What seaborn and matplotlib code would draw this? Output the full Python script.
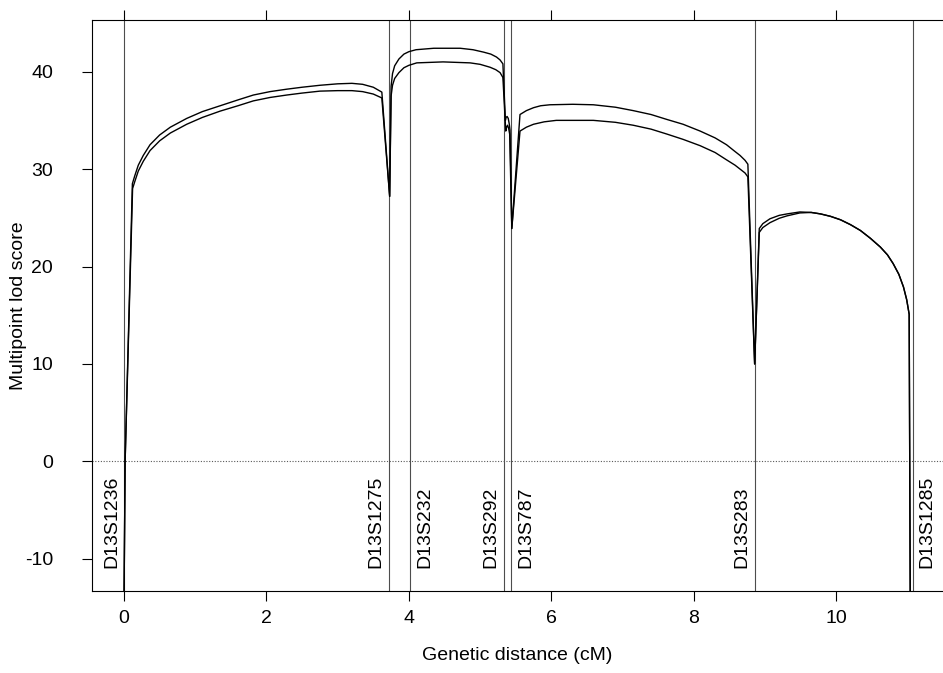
import numpy as np
import pandas as pd
import matplotlib
matplotlib.use('Agg')
import matplotlib.pyplot as plt
import seaborn as sns

# Markers on chromosome 13 (position in cM)
marker_names = ['D13S1236', 'D13S1275', 'D13S232', 'D13S292', 'D13S787', 'D13S283', 'D13S1285']
marker_pos = [0.0, 3.72, 4.02, 5.33, 5.44, 8.86, 11.08]
label_side = ['left', 'left', 'right', 'left', 'right', 'left', 'right']

# Upper multipoint lod curve
upper_x = [0.0, 0.015, 0.117, 0.15, 0.2, 0.27, 0.365, 0.5, 0.65, 0.88, 1.1, 1.35, 1.6, 1.816,
           2.05, 2.285, 2.5, 2.75, 3.0, 3.2, 3.35, 3.5, 3.62,
           3.73, 3.75, 3.77, 3.8, 3.86, 3.93, 4.0, 4.1, 4.35, 4.72, 4.9, 5.05, 5.15, 5.23, 5.28, 5.32,
           5.355, 5.365, 5.379, 5.395, 5.41, 5.42, 5.445,
           5.56, 5.65, 5.75, 5.85, 5.98, 6.3, 6.59, 6.9, 7.15, 7.4, 7.62, 7.85, 8.09, 8.3, 8.46,
           8.58, 8.65, 8.72, 8.76,
           8.855, 8.92, 8.97, 9.07, 9.2, 9.31, 9.49, 9.65, 9.78, 9.92, 10.06, 10.2, 10.34, 10.48,
           10.62, 10.72, 10.80, 10.88, 10.945, 10.99, 11.025, 11.04]
upper_y = [-14.0, 0.0, 28.5, 29.3, 30.4, 31.4, 32.5, 33.5, 34.3, 35.2, 35.9, 36.5, 37.1, 37.6,
           37.95, 38.2, 38.4, 38.6, 38.75, 38.8, 38.7, 38.4, 37.9,
           27.2, 38.5, 39.8, 40.6, 41.3, 41.8, 42.05, 42.25, 42.4, 42.4, 42.25, 42.0, 41.8, 41.5, 41.2, 40.8,
           35.0, 35.3, 35.4, 35.2, 34.6, 34.0, 23.9,
           35.6, 36.0, 36.3, 36.5, 36.6, 36.65, 36.6, 36.35, 36.0, 35.6, 35.1, 34.6, 33.9, 33.2, 32.5,
           31.8, 31.4, 30.9, 30.5,
           10.0, 23.9, 24.4, 24.9, 25.25, 25.4, 25.6, 25.55, 25.4, 25.15, 24.8, 24.3, 23.7, 22.9,
           22.0, 21.2, 20.3, 19.2, 17.9, 16.6, 15.1, -14.0]

# Lower multipoint lod curve
lower_x = [0.0, 0.015, 0.12, 0.15, 0.2, 0.27, 0.365, 0.5, 0.65, 0.88, 1.1, 1.35, 1.6, 1.816,
           2.05, 2.285, 2.5, 2.75, 3.0, 3.2, 3.35, 3.5, 3.62,
           3.73, 3.75, 3.77, 3.8, 3.86, 3.93, 4.0, 4.11, 4.48, 4.86, 5.0, 5.14, 5.22, 5.28, 5.32,
           5.36, 5.372, 5.385, 5.40, 5.415, 5.445,
           5.56, 5.65, 5.75, 5.9, 6.07, 6.59, 6.9, 7.15, 7.4, 7.62, 7.85, 8.09, 8.3, 8.46,
           8.58, 8.65, 8.72, 8.76,
           8.855, 8.92, 8.97, 9.07, 9.2, 9.31, 9.49, 9.65, 9.78, 9.92, 10.06, 10.2, 10.34, 10.48,
           10.62, 10.72, 10.80, 10.88, 10.945, 10.99, 11.025, 11.04]
lower_y = [-14.0, 0.0, 28.0, 28.7, 29.8, 30.8, 31.9, 32.9, 33.7, 34.6, 35.3, 35.95, 36.5, 37.0,
           37.35, 37.6, 37.8, 38.0, 38.05, 38.05, 37.95, 37.7, 37.3,
           27.2, 37.5, 38.6, 39.3, 39.9, 40.4, 40.65, 40.9, 41.0, 40.9, 40.75, 40.45, 40.2, 39.9, 39.4,
           33.9, 34.3, 34.5, 34.2, 33.6, 23.9,
           33.9, 34.3, 34.6, 34.85, 35.0, 35.0, 34.8, 34.5, 34.1, 33.6, 33.05, 32.4, 31.7, 30.95,
           30.4, 30.0, 29.6, 29.2,
           10.0, 23.5, 24.0, 24.5, 24.95, 25.2, 25.5, 25.55, 25.4, 25.15, 24.8, 24.3, 23.7, 22.9,
           22.0, 21.2, 20.3, 19.2, 17.9, 16.6, 15.1, -14.0]

sns.set_theme(style='ticks')
plt.rcParams['font.family'] = ['Liberation Sans', 'DejaVu Sans']
plt.rcParams['font.size'] = 14
plt.rcParams['text.color'] = 'black'
plt.rcParams['axes.labelcolor'] = 'black'
plt.rcParams['axes.unicode_minus'] = False

fig = plt.figure(figsize=(9.43, 6.73), dpi=100)
ax = fig.add_axes([92 / 943, 1 - 591 / 673, 1 - 92 / 943, 571 / 673])

df_up = pd.DataFrame({'x': upper_x, 'y': upper_y})
df_lo = pd.DataFrame({'x': lower_x, 'y': lower_y})
sns.lineplot(data=df_up, x='x', y='y', sort=False, estimator=None, color='black', lw=1.0, ax=ax)
sns.lineplot(data=df_lo, x='x', y='y', sort=False, estimator=None, color='black', lw=1.0, ax=ax)

# marker positions
for name, pos, side in zip(marker_names, marker_pos, label_side):
    ax.axvline(pos, color='0.3', lw=0.8, zorder=1)
    dx = -3 if side == 'left' else 4
    ax.annotate(name, xy=(pos, -10.9), xytext=(dx, 0), textcoords='offset points',
                rotation=90, ha='right' if side == 'left' else 'left', va='bottom',
                fontsize=14, color='black')

ax.axhline(0, color='0.35', lw=0.8, ls=(0, (1, 1.5)), zorder=1)

ax.set_xlim(-0.45, 11.5)
ax.set_ylim(-13.3, 45.3)
ax.set_xticks([0, 2, 4, 6, 8, 10])
ax.set_yticks([-10, 0, 10, 20, 30, 40])

for s in ['left', 'bottom', 'top']:
    ax.spines[s].set_visible(True)
    ax.spines[s].set_color('black')
    ax.spines[s].set_linewidth(0.8)
ax.spines['right'].set_visible(False)

ax.tick_params(axis='x', which='both', direction='out', length=7, width=0.8,
               top=True, labeltop=False, pad=7, labelsize=14, colors='black')
ax.tick_params(axis='y', direction='out', length=7, width=0.8, pad=21, labelsize=14,
               colors='black')

ax.set_xlabel('Genetic distance (cM)', fontsize=14)
ax.set_ylabel('Multipoint lod score', fontsize=14)
ax.xaxis.set_label_coords(0.5, -0.098)
ax.yaxis.set_label_coords(-0.0764, 0.5)

fig.savefig('out.png', dpi=100)
